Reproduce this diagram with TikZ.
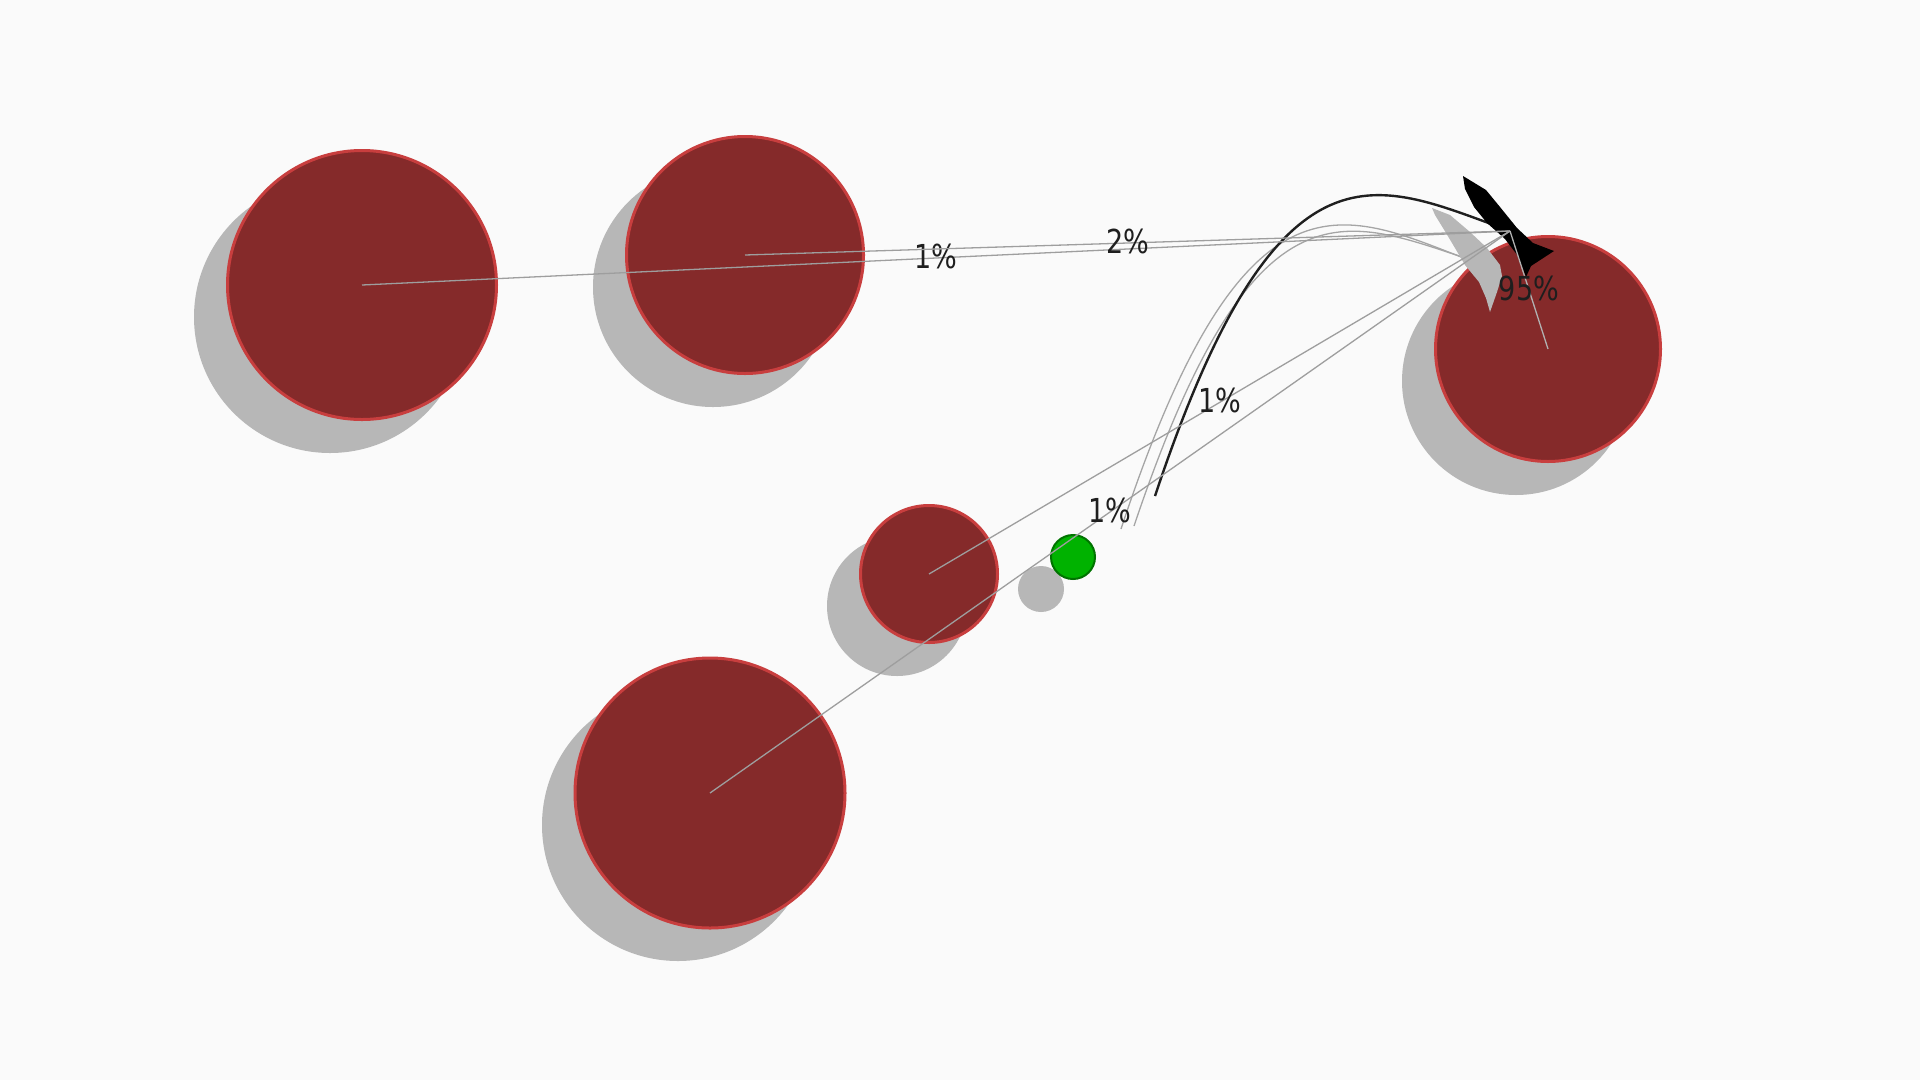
\documentclass[tikz,border=0pt]{standalone}
\usepackage{fontspec}
\newfontfamily\lblfont[FakeStretch=0.82]{DejaVu Sans}
\definecolor{bgwhite}{RGB}{250,250,250}
\definecolor{shadowgray}{RGB}{183,183,183}
\definecolor{ballred}{RGB}{133,42,42}
\definecolor{ballrim}{RGB}{200,62,62}
\definecolor{linkgray}{RGB}{158,158,158}
\definecolor{labelink}{RGB}{30,30,30}
\definecolor{greenfill}{RGB}{0,178,0}
\definecolor{greenrim}{RGB}{0,115,0}
\definecolor{curvegray}{RGB}{165,165,165}
\begin{document}
\begin{tikzpicture}[x=1pt,y=-1pt,
  shadowdisc/.style={fill=shadowgray},
  ball/.style={circle, fill=ballred, draw=ballrim, line width=3pt, inner sep=0pt},
  greenball/.style={circle, fill=greenfill, draw=greenrim, line width=2pt, inner sep=0pt, minimum size=44pt},
  link/.style={draw=linkgray, line width=1.3pt},
  pct/.style={font=\lblfont\fontsize{33}{33}\selectfont, text=labelink, inner sep=0pt, yshift=2pt},
  shadowcurve/.style={draw=curvegray, line width=1.3pt},
  maincurve/.style={draw=black!88, line width=2.4pt}]
\fill[bgwhite] (0,0) rectangle (1920,1080);
\useasboundingbox (0,0) rectangle (1920,1080);

% shadows of the discs
\fill[shadowdisc] (330,317) circle[radius=136];
\fill[shadowdisc] (713,287) circle[radius=120];
\fill[shadowdisc] (1516,381) circle[radius=114];
\fill[shadowdisc] (897,606) circle[radius=70];
\fill[shadowdisc] (678,825) circle[radius=136];
\fill[shadowdisc] (1041,589) circle[radius=23];

% discs
\node[ball, minimum size=269pt] (A) at (362,285) {};
\node[ball, minimum size=237pt] (B) at (745,255) {};
\node[ball, minimum size=225pt] (C) at (1548,349) {};
\node[ball, minimum size=137pt] (D) at (929,574) {};
\node[ball, minimum size=270pt] (E) at (710,793) {};
\node[greenball] (G) at (1073,557) {};

% shadow of the curved arrow
\draw[shadowcurve] (1121,529) .. controls (1246,150) and (1346,213) .. (1474,262);
\draw[shadowcurve] (1134,526) .. controls (1257,160) and (1350,222) .. (1478,262);
\fill[shadowgray] (1432,208) -- (1450,215) -- (1470,232) -- (1487,248) -- (1500,265)
  -- (1502,276) -- (1497,292) -- (1490,312) -- (1486,298) -- (1479,282)
  -- (1465,265) -- (1452,243) -- (1443,228) -- (1435,215) -- cycle;

% curved arrow
\draw[maincurve] (1155,496) .. controls (1280,120) and (1380,185) .. (1508,230);
\fill[black] (1463,176) -- (1486,190) -- (1500,207) -- (1517,228) -- (1533,243)
  -- (1554,251) -- (1531,266) -- (1526,277) -- (1518,256) -- (1505,239)
  -- (1487,223) -- (1474,207) -- (1465,189) -- cycle;

% links to the target point
\coordinate (T) at (1510,231);
\draw[link] (A.center) -- (T) node[pct, midway] (lA) {1\%};
\draw[link] (B.center) -- (T) node[pct, midway] (lB) {2\%};
\draw[link] (D.center) -- (T) node[pct, midway] (lD) {1\%};
\draw[link] (E.center) -- (T) node[pct, midway] (lE) {1\%};
\draw[link, draw=linkgray!80] (C.center) -- (T) node[pct, midway] (lC) {95\%};
\end{tikzpicture}
\end{document}
